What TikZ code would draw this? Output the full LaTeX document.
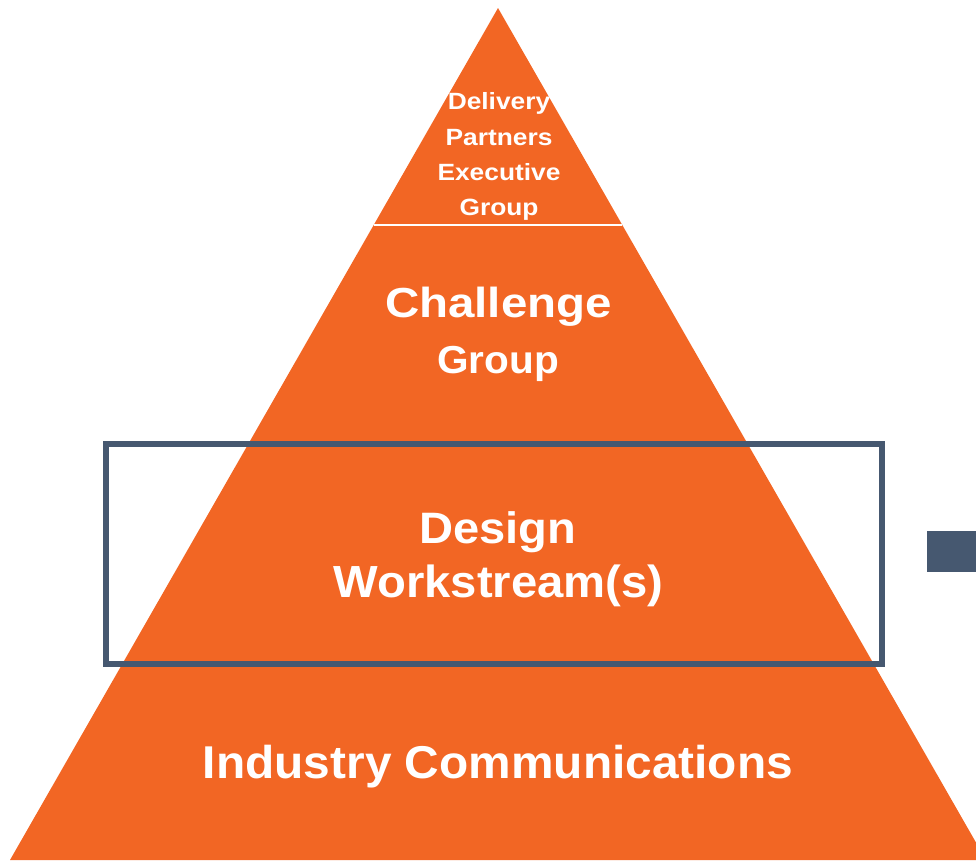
\documentclass[tikz,border=0pt]{standalone}
\usepackage{fontspec}
\setmainfont{Liberation Sans}
\definecolor{pyrorange}{RGB}{242,102,36}
\definecolor{slate}{RGB}{70,88,112}
\tikzset{
  lbl/.style={text=white, font=\bfseries, inner sep=0pt, anchor=base},
}
\newcommand{\fsz}[1]{\fontsize{#1}{#1}\selectfont}
\begin{document}
\begin{tikzpicture}[x=1pt,y=-1pt]
\useasboundingbox (0,0) rectangle (976,860);
\begin{scope}
\clip (0,0) rectangle (976,860);
\fill[pyrorange] (498,8) coordinate (apex) -- (10,860) coordinate (bl) -- (986,860) coordinate (br) -- cycle;
\coordinate (dl) at (373.7,225);
\coordinate (dr) at (622.3,225);
\draw[white, line width=2pt] (dl) -- (dr);
\draw[slate, line width=6pt] (106,444) coordinate (boxa) rectangle (882,664) coordinate (boxb);
\fill[slate] (927,531) coordinate (ra) rectangle (990,572) coordinate (rb);
\end{scope}
% top tier
\node[lbl, font=\bfseries\fsz{23.5}, xscale=1.12] (t1) at (499,109) {Delivery};
\node[lbl, font=\bfseries\fsz{23.5}, xscale=1.12] (t2) at (499,145) {Partners};
\node[lbl, font=\bfseries\fsz{23.5}, xscale=1.12] (t3) at (499,180) {Executive};
\node[lbl, font=\bfseries\fsz{23.5}, xscale=1.12] (t4) at (499,215) {Group};
% challenge
\node[lbl, font=\bfseries\fsz{42}, xscale=1.13] (c1) at (498.5,317) {Challenge};
\node[lbl, font=\bfseries\fsz{39}, xscale=1.04] (c2) at (498,373) {Group};
% design
\node[lbl, font=\bfseries\fsz{44}, xscale=1.07] (d1) at (497.5,543) {Design};
\node[lbl, font=\bfseries\fsz{45}, xscale=1.05] (d2) at (498.5,597) {Workstream(s)};
% industry
\node[lbl, font=\bfseries\fsz{46}, xscale=1.04] (i1) at (498,778) {Industry Communications};
\end{tikzpicture}
\end{document}
